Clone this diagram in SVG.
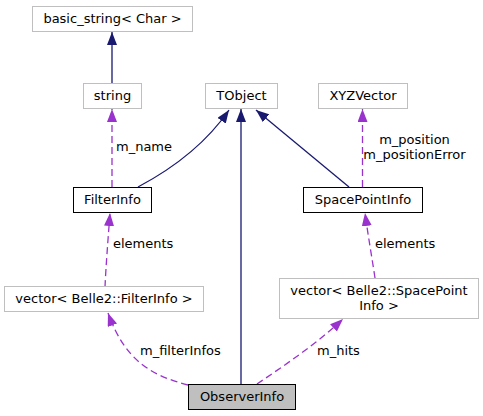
<svg xmlns="http://www.w3.org/2000/svg" width="483" height="416" viewBox="0 0 483 416">
<style>
text{font-family:"DejaVu Sans",sans-serif;font-size:13px;fill:#000}
.c{text-anchor:middle}
.g rect{fill:#fff;stroke:#bfbfbf;stroke-width:1}
.b rect{fill:#fff;stroke:#000;stroke-width:1}
.n{fill:none;stroke:#191970;stroke-width:1.3}
.p{fill:none;stroke:#9a32cd;stroke-width:1.3;stroke-dasharray:7,4}
</style>
<defs>
<marker id="an" viewBox="0 0 13 10" refX="13" refY="5" markerWidth="13" markerHeight="10" markerUnits="userSpaceOnUse" orient="auto"><path d="M0,0L13,5L0,10z" fill="#191970"/></marker>
<marker id="ap" viewBox="0 0 13 10" refX="13" refY="5" markerWidth="13" markerHeight="10" markerUnits="userSpaceOnUse" orient="auto"><path d="M0,0L13,5L0,10z" fill="#9a32cd"/></marker>
</defs>
<rect width="483" height="416" fill="#fff"/>
<g id="edges">
<path class="n" d="M112,83V32" marker-end="url(#an)"/>
<path class="n" d="M241,384V109" marker-end="url(#an)"/>
<path class="n" d="M138,187C170,170 205,145 229,110" marker-end="url(#an)"/>
<path class="n" d="M349,187L256,110" marker-end="url(#an)"/>
<path class="p" d="M112,187V109" marker-end="url(#ap)"/>
<path class="p" d="M362.5,187V109" marker-end="url(#ap)"/>
<path class="p" d="M105,287C106,265 108,240 110,213" marker-end="url(#ap)"/>
<path class="p" d="M375,278C372,258 368,235 365,213" marker-end="url(#ap)"/>
<path class="p" d="M188,385C150,375 125,360 108,313" marker-end="url(#ap)"/>
<path class="p" d="M257,384C285,365 315,345 343,319" marker-end="url(#ap)"/>
<text x="116" y="151">m_name</text>
<text x="414.5" y="144" class="c">m_position</text>
<text x="414.5" y="159" class="c">m_positionError</text>
<text x="113" y="248">elements</text>
<text x="375" y="248">elements</text>
<text x="140" y="355">m_filterInfos</text>
<text x="317" y="355">m_hits</text>
</g>
<g id="basic_string" class="g"><rect x="32.5" y="6.5" width="160" height="25"/><text x="112.5" y="23" class="c">basic_string&lt; Char &gt;</text></g>
<g id="string" class="g"><rect x="83.5" y="83.5" width="58" height="25"/><text x="112.5" y="100" class="c">string</text></g>
<g id="TObject" class="g"><rect x="205.5" y="83.5" width="72" height="25"/><text x="241.5" y="100" class="c">TObject</text></g>
<g id="XYZVector" class="g"><rect x="318.5" y="83.5" width="89" height="25"/><text x="363" y="100" class="c">XYZVector</text></g>
<g id="FilterInfo" class="b"><rect x="73.5" y="187.5" width="78" height="25"/><text x="112.5" y="204" class="c">FilterInfo</text></g>
<g id="SpacePointInfo" class="b"><rect x="303.5" y="187.5" width="119" height="25"/><text x="363" y="204" class="c">SpacePointInfo</text></g>
<g id="vecFilterInfo" class="g"><rect x="4.5" y="286.5" width="199" height="25"/><text x="104" y="303" class="c">vector&lt; Belle2::FilterInfo &gt;</text></g>
<g id="vecSpacePointInfo" class="g"><rect x="279.5" y="278.5" width="199" height="40"/><text x="379" y="295" class="c">vector&lt; Belle2::SpacePoint</text><text x="379" y="310" class="c">Info &gt;</text></g>
<g id="ObserverInfo"><rect x="188.5" y="384.5" width="107" height="25" fill="#bfbfbf" stroke="#000"/><text x="242" y="401" class="c">ObserverInfo</text></g>
</svg>
